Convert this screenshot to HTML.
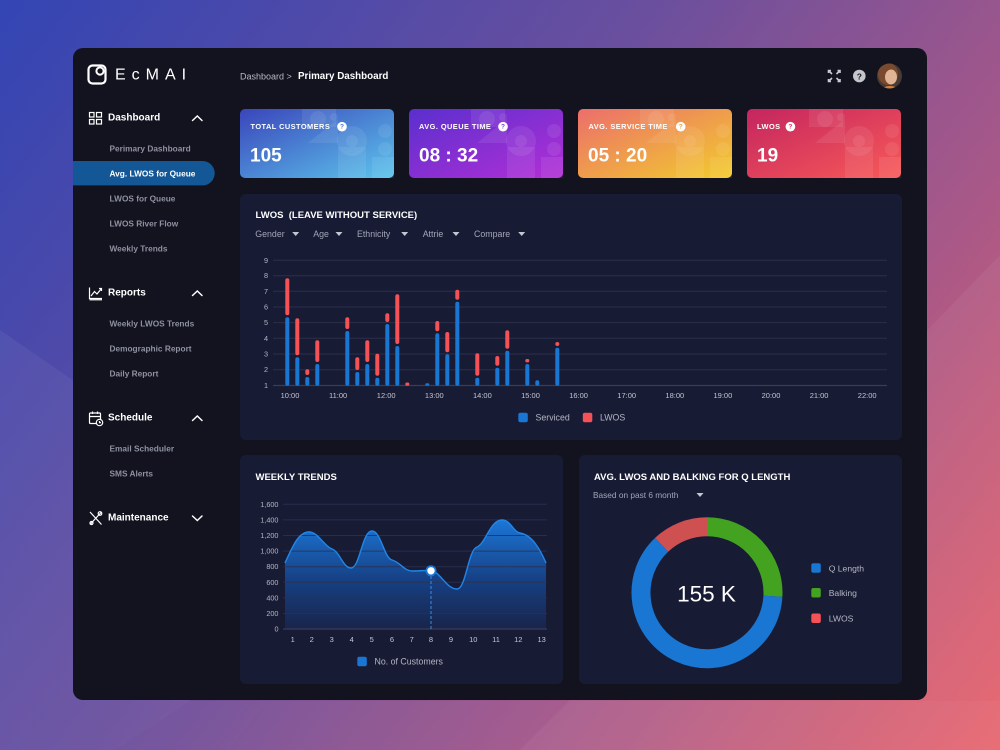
<!DOCTYPE html>
<html><head><meta charset="utf-8"><style>
html,body{margin:0;padding:0;width:1000px;height:750px;overflow:hidden;background:#12131f}
svg{display:block}
text{font-family:"Liberation Sans",sans-serif}
</style></head><body>
<svg width="1000" height="750" viewBox="0 0 1000 750" xmlns="http://www.w3.org/2000/svg">
<defs>
<linearGradient id="bg" x1="0" y1="0" x2="1000" y2="750" gradientUnits="userSpaceOnUse">
<stop offset="0" stop-color="#3345b4"/><stop offset="0.42" stop-color="#6a4f9e"/><stop offset="0.72" stop-color="#a85888"/><stop offset="1" stop-color="#e8626a"/>
</linearGradient>
<linearGradient id="c1" x1="0" y1="0" x2="1" y2="1"><stop offset="0" stop-color="#3a45bb"/><stop offset="1" stop-color="#5cc4ec"/></linearGradient>
<linearGradient id="c2" x1="0" y1="0" x2="1" y2="1"><stop offset="0" stop-color="#5a2fce"/><stop offset="1" stop-color="#b22fd6"/></linearGradient>
<linearGradient id="c3" x1="0" y1="0" x2="1" y2="1"><stop offset="0" stop-color="#ec6e6c"/><stop offset="1" stop-color="#f2cc2c"/></linearGradient>
<linearGradient id="c4" x1="0" y1="0" x2="1" y2="1"><stop offset="0" stop-color="#c4255f"/><stop offset="1" stop-color="#f85a58"/></linearGradient>
<linearGradient id="area" x1="0" y1="518" x2="0" y2="629" gradientUnits="userSpaceOnUse">
<stop offset="0" stop-color="#1c78da"/><stop offset="0.55" stop-color="#164186"/><stop offset="1" stop-color="#19244a"/>
</linearGradient>
<clipPath id="av"><circle cx="889.5" cy="76" r="12.5"/></clipPath>
<g id="deco" fill="#ffffff" fill-opacity="0.08">
<rect x="62" y="0" width="34" height="18"/>
<circle cx="78" cy="10" r="8"/>
<circle cx="94" cy="8" r="4"/>
<polygon points="68,34 98,10 98,34"/>
<circle cx="112" cy="32" r="15"/>
<circle cx="112" cy="32" r="6"/>
<rect x="98" y="38" width="28" height="31"/>
<circle cx="145" cy="22" r="7"/>
<circle cx="145" cy="40" r="7"/>
<rect x="132" y="48" width="22" height="21"/>
</g>
</defs>

<!-- background -->
<rect width="1000" height="750" fill="url(#bg)"/>
<polygon points="0,330 90,392 190,700 115,750 0,750" fill="#ffffff" fill-opacity="0.05"/>
<polygon points="115,750 187,701 1000,701 1000,750" fill="#ffffff" fill-opacity="0.035"/>
<polygon points="1000,255 560,710 520,750 1000,750" fill="#ffffff" fill-opacity="0.05"/>

<!-- window -->
<rect x="73" y="48" width="854" height="652" rx="10" fill="#12131f"/>

<!-- logo -->
<rect x="88.5" y="65.5" width="17" height="18" rx="4" fill="none" stroke="#fff" stroke-width="2.2"/>
<circle cx="100" cy="71" r="3.6" fill="none" stroke="#fff" stroke-width="2"/>
<text x="115" y="75" font-size="16" fill="#fff" letter-spacing="6" dominant-baseline="central">EcMAI</text>

<!-- breadcrumb -->
<text x="240" y="76.5" font-size="9" fill="#b9bac6" dominant-baseline="central">Dashboard &gt;</text>
<text x="298" y="76.5" font-size="9.8" font-weight="bold" fill="#fff" dominant-baseline="central">Primary Dashboard</text>

<!-- header icons -->
<g stroke="#c8c8d0" stroke-width="1.6" fill="none">
<path d="M828.5,73 V70.5 H831 M828.5,70.5 L832,74"/>
<path d="M840,73 V70.5 H837.5 M840,70.5 L836.5,74"/>
<path d="M828.5,79 V81.5 H831 M828.5,81.5 L832,78"/>
<path d="M840,79 V81.5 H837.5 M840,81.5 L836.5,78"/>
</g>
<circle cx="859.3" cy="76" r="6.3" fill="#c5c5cc"/>
<text x="859.3" y="76.5" font-size="8.5" font-weight="bold" fill="#12131f" text-anchor="middle" dominant-baseline="central">?</text>
<g clip-path="url(#av)">
<rect x="876" y="63" width="28" height="28" fill="#4a3a34"/>
<ellipse cx="888" cy="74" rx="10" ry="11" fill="#7a4a30"/>
<ellipse cx="891" cy="77" rx="6" ry="7.5" fill="#e2b496"/>
<ellipse cx="890" cy="91" rx="9" ry="5" fill="#d4843a"/>
</g>

<!-- sidebar -->
<path d="M73,161 H202.5 A12.2,12.2 0 0 1 202.5,185.4 H73 Z" fill="#145796"/>
<g fill="none" stroke="#fff" stroke-width="1.2">
<rect x="89.5" y="112.5" width="4.5" height="4.5"/><rect x="96.5" y="112.5" width="5" height="4.5"/>
<rect x="89.5" y="119.5" width="4.5" height="4.5"/><rect x="96.5" y="119.5" width="5" height="4.5"/>
<path d="M89.5,287.5 V298.5 H102 M89.5,299.8 H102"/>
<path d="M91,296 L94.5,291.5 L97,294 L101.5,288.5 M99,288.5 H101.5 V291"/>
<rect x="89.5" y="413" width="11" height="10.5" rx="1"/><path d="M89.5,416.5 H100.5 M92.5,411.5 V414 M97.5,411.5 V414"/>
<circle cx="99.5" cy="422.5" r="3.2" fill="#12131f"/><path d="M99.5,421 V422.7 H101"/>
<path d="M90,512 L101.5,524.5 M101.5,512 L90,524.5"/><circle cx="91.5" cy="523" r="1.5"/><circle cx="100" cy="513.5" r="1.8"/>
</g>
<g stroke="#fff" stroke-width="1.5" fill="none" stroke-linecap="round">
<path d="M192.5,120.5 L197.3,116 L202,120.5"/>
<path d="M192.5,295.5 L197.3,291 L202,295.5"/>
<path d="M192.5,420.5 L197.3,416 L202,420.5"/>
<path d="M192.5,516 L197.3,520.5 L202,516"/>
</g>
<g font-size="10" font-weight="bold" fill="#fff" dominant-baseline="central">
<text x="108" y="118">Dashboard</text>
<text x="108" y="293">Reports</text>
<text x="108" y="418">Schedule</text>
<text x="108" y="518">Maintenance</text>
</g>
<g font-size="8.3" font-weight="bold" fill="#8f91a2" dominant-baseline="central">
<text x="109.5" y="148.5">Perimary Dashboard</text>
<text x="109.5" y="173.5" fill="#fff">Avg. LWOS for Queue</text>
<text x="109.5" y="198.5">LWOS for Queue</text>
<text x="109.5" y="223.5">LWOS River Flow</text>
<text x="109.5" y="248.5">Weekly Trends</text>
<text x="109.5" y="323.5">Weekly LWOS Trends</text>
<text x="109.5" y="348.5">Demographic Report</text>
<text x="109.5" y="373.5">Daily Report</text>
<text x="109.5" y="448.5">Email Scheduler</text>
<text x="109.5" y="473.5">SMS Alerts</text>
</g>

<!-- stat cards -->
<rect x="240" y="109" width="154" height="69" rx="5" fill="url(#c1)"/>
<rect x="409" y="109" width="154" height="69" rx="5" fill="url(#c2)"/>
<rect x="578" y="109" width="154" height="69" rx="5" fill="url(#c3)"/>
<rect x="747" y="109" width="154" height="69" rx="5" fill="url(#c4)"/>
<use href="#deco" x="240" y="109"/>
<use href="#deco" x="409" y="109"/>
<use href="#deco" x="578" y="109"/>
<use href="#deco" x="747" y="109"/>
<g font-size="7.4" font-weight="bold" fill="#fff" letter-spacing="0.45" dominant-baseline="central">
<text x="250.5" y="126.5">TOTAL CUSTOMERS</text>
<text x="419" y="126.5">AVG. QUEUE TIME</text>
<text x="588.5" y="126.5">AVG. SERVICE TIME</text>
<text x="757" y="126.5">LWOS</text>
</g>
<g fill="#fff"><circle cx="342" cy="126.7" r="4.8"/><circle cx="503" cy="126.7" r="4.8"/><circle cx="680.7" cy="126.7" r="4.8"/><circle cx="790.4" cy="126.7" r="4.8"/></g>
<g font-size="6.5" font-weight="bold" text-anchor="middle" dominant-baseline="central">
<text x="342" y="127" fill="#4a72cc">?</text><text x="503" y="127" fill="#8a30d4">?</text><text x="680.7" y="127" fill="#f0a040">?</text><text x="790.4" y="127" fill="#d83258">?</text>
</g>
<g font-size="19" font-weight="bold" fill="#fff" dominant-baseline="central">
<text x="250" y="156">105</text>
<text x="419" y="156">08 : 32</text>
<text x="588" y="156">05 : 20</text>
<text x="757" y="156">19</text>
</g>

<!-- LWOS panel -->
<rect x="240" y="194" width="662" height="246" rx="6" fill="#181b34"/>
<text x="255.5" y="215.5" font-size="9.5" font-weight="bold" fill="#fff" dominant-baseline="central" xml:space="preserve">LWOS  (LEAVE WITHOUT SERVICE)</text>
<g font-size="8.8" fill="#a3a5b8" dominant-baseline="central">
<text x="255.3" y="234">Gender</text><text x="313.3" y="234">Age</text><text x="357" y="234">Ethnicity</text><text x="422.7" y="234">Attrie</text><text x="474" y="234">Compare</text>
</g>
<g fill="#c4c6d2">
<path d="M292.2,232 h7 l-3.5,4 z"/><path d="M335.5,232 h7 l-3.5,4 z"/><path d="M401.2,232 h7 l-3.5,4 z"/><path d="M452.5,232 h7 l-3.5,4 z"/><path d="M518.2,232 h7 l-3.5,4 z"/>
</g>
<g stroke="#2c2f4a" stroke-width="1">
<line x1="273" y1="260.3" x2="887" y2="260.3"/><line x1="273" y1="275.7" x2="887" y2="275.7"/><line x1="273" y1="291.3" x2="887" y2="291.3"/>
<line x1="273" y1="307" x2="887" y2="307"/><line x1="273" y1="322.6" x2="887" y2="322.6"/><line x1="273" y1="338.3" x2="887" y2="338.3"/>
<line x1="273" y1="354" x2="887" y2="354"/><line x1="273" y1="369.7" x2="887" y2="369.7"/>
</g>
<line x1="273" y1="385.5" x2="887" y2="385.5" stroke="#3a3d58" stroke-width="1.2"/>
<g font-size="7.3" fill="#b4b6c4" text-anchor="middle" dominant-baseline="central">
<text x="266" y="260.3">9</text><text x="266" y="275.7">8</text><text x="266" y="291.3">7</text><text x="266" y="307">6</text><text x="266" y="322.6">5</text>
<text x="266" y="338.3">4</text><text x="266" y="354">3</text><text x="266" y="369.7">2</text><text x="266" y="385.5">1</text>
</g>
<g font-size="7.5" fill="#c4c6d2" text-anchor="middle" dominant-baseline="central">
<text x="290" y="395.5">10:00</text><text x="338.1" y="395.5">11:00</text><text x="386.2" y="395.5">12:00</text><text x="434.3" y="395.5">13:00</text>
<text x="482.4" y="395.5">14:00</text><text x="530.5" y="395.5">15:00</text><text x="578.6" y="395.5">16:00</text><text x="626.7" y="395.5">17:00</text>
<text x="674.8" y="395.5">18:00</text><text x="722.9" y="395.5">19:00</text><text x="771" y="395.5">20:00</text><text x="819.1" y="395.5">21:00</text><text x="867.2" y="395.5">22:00</text>
</g>
<!-- bars blue -->
<g fill="#1976d2">
<rect x="285.3" y="317.3" width="4" height="68.5" rx="2"/>
<rect x="295.3" y="357.3" width="4" height="28.5" rx="2"/>
<rect x="305.3" y="377" width="4" height="8.8" rx="2"/>
<rect x="315.3" y="364" width="4" height="21.8" rx="2"/>
<rect x="345.3" y="331" width="4" height="54.8" rx="2"/>
<rect x="355.3" y="372" width="4" height="13.8" rx="2"/>
<rect x="365.3" y="364" width="4" height="21.8" rx="2"/>
<rect x="375.3" y="377.7" width="4" height="8.1" rx="2"/>
<rect x="385.3" y="324" width="4" height="61.8" rx="2"/>
<rect x="395.3" y="346" width="4" height="39.8" rx="2"/>
<rect x="425.3" y="383.3" width="4" height="2.5" rx="1.2"/>
<rect x="435.3" y="333.3" width="4" height="52.5" rx="2"/>
<rect x="445.3" y="354.3" width="4" height="31.5" rx="2"/>
<rect x="455.3" y="301.7" width="4" height="84.1" rx="2"/>
<rect x="475.3" y="377.7" width="4" height="8.1" rx="2"/>
<rect x="495.3" y="367.7" width="4" height="18.1" rx="2"/>
<rect x="505.3" y="350.7" width="4" height="35.1" rx="2"/>
<rect x="525.3" y="364" width="4" height="21.8" rx="2"/>
<rect x="535.3" y="380.3" width="4" height="5.5" rx="2"/>
<rect x="555.3" y="347.7" width="4" height="38.1" rx="2"/>
</g>
<g fill="#f45256">
<rect x="285.3" y="278.3" width="4" height="37" rx="2"/>
<rect x="295.3" y="318.3" width="4" height="37" rx="2"/>
<rect x="305.3" y="369.3" width="4" height="5.7" rx="2"/>
<rect x="315.3" y="340.3" width="4" height="21.7" rx="2"/>
<rect x="345.3" y="317.3" width="4" height="11.7" rx="2"/>
<rect x="355.3" y="357.3" width="4" height="12.7" rx="2"/>
<rect x="365.3" y="340.3" width="4" height="21.7" rx="2"/>
<rect x="375.3" y="353.7" width="4" height="22" rx="2"/>
<rect x="385.3" y="313.3" width="4" height="8.7" rx="2"/>
<rect x="395.3" y="294.3" width="4" height="49.7" rx="2"/>
<rect x="405.3" y="382.5" width="4" height="3.2" rx="1.5"/>
<rect x="435.3" y="321" width="4" height="10.3" rx="2"/>
<rect x="445.3" y="332" width="4" height="20.3" rx="2"/>
<rect x="455.3" y="289.7" width="4" height="10" rx="2"/>
<rect x="475.3" y="353.3" width="4" height="22.4" rx="2"/>
<rect x="495.3" y="356" width="4" height="9.7" rx="2"/>
<rect x="505.3" y="330.3" width="4" height="18.4" rx="2"/>
<rect x="525.3" y="359" width="4" height="3.4" rx="1.7"/>
<rect x="555.3" y="342" width="4" height="4" rx="2"/>
</g>
<rect x="518.3" y="412.8" width="9.5" height="9.5" rx="2" fill="#1976d2"/>
<text x="535.5" y="417.7" font-size="8.8" fill="#b4b6c4" dominant-baseline="central">Serviced</text>
<rect x="582.8" y="412.8" width="9.5" height="9.5" rx="2" fill="#f45256"/>
<text x="600" y="417.7" font-size="8.8" fill="#b4b6c4" dominant-baseline="central">LWOS</text>

<!-- weekly trends panel -->
<rect x="240" y="455" width="323" height="229" rx="6" fill="#181b34"/>
<text x="255.5" y="477.5" font-size="9.5" font-weight="bold" fill="#fff" dominant-baseline="central">WEEKLY TRENDS</text>
<path d="M285,563 C292,548 298,532 309,532 C318,532 324,546 332,549 C340,552 343,568 351,568 C360,568 362,531 372,531 C381,531 384,558 392,560 C400,562 404,571 412,571 C420,571 425,570 431,571 C440,571 446,589 457,589 C466,589 468,550 477,547 C486,543 490,520 502,520 C511,520 513,532 520,533 C532,535 540,549 546,563 L546,629 L285,629 Z" fill="url(#area)"/>
<g stroke="#2c3050" stroke-opacity="0.85" stroke-width="1">
<line x1="283" y1="504.3" x2="547" y2="504.3"/><line x1="283" y1="519.9" x2="547" y2="519.9"/><line x1="283" y1="535.5" x2="547" y2="535.5"/>
<line x1="283" y1="551.1" x2="547" y2="551.1"/><line x1="283" y1="566.7" x2="547" y2="566.7"/><line x1="283" y1="582.3" x2="547" y2="582.3"/>
<line x1="283" y1="597.9" x2="547" y2="597.9"/><line x1="283" y1="613.5" x2="547" y2="613.5"/>
</g>
<line x1="283" y1="629" x2="547" y2="629" stroke="#3a3d58" stroke-width="1.2"/>
<path d="M285,563 C292,548 298,532 309,532 C318,532 324,546 332,549 C340,552 343,568 351,568 C360,568 362,531 372,531 C381,531 384,558 392,560 C400,562 404,571 412,571 C420,571 425,570 431,571 C440,571 446,589 457,589 C466,589 468,550 477,547 C486,543 490,520 502,520 C511,520 513,532 520,533 C532,535 540,549 546,563" fill="none" stroke="#2286e6" stroke-width="1.4"/>
<line x1="431" y1="576" x2="431" y2="629" stroke="#3d8de0" stroke-width="1" stroke-dasharray="3,2"/>
<circle cx="431" cy="570.8" r="4.6" fill="#fff" stroke="#1976d2" stroke-width="1.8"/>
<g font-size="7.3" fill="#b4b6c4" text-anchor="end" dominant-baseline="central">
<text x="278.5" y="504.3">1,600</text><text x="278.5" y="519.9">1,400</text><text x="278.5" y="535.5">1,200</text><text x="278.5" y="551.1">1,000</text>
<text x="278.5" y="566.7">800</text><text x="278.5" y="582.3">600</text><text x="278.5" y="597.9">400</text><text x="278.5" y="613.5">200</text><text x="278.5" y="629">0</text>
</g>
<g font-size="7.5" fill="#c4c6d2" text-anchor="middle" dominant-baseline="central">
<text x="292.7" y="639.5">1</text><text x="311.7" y="639.5">2</text><text x="331.7" y="639.5">3</text><text x="351.7" y="639.5">4</text>
<text x="371.7" y="639.5">5</text><text x="392" y="639.5">6</text><text x="411.7" y="639.5">7</text><text x="431" y="639.5">8</text>
<text x="451" y="639.5">9</text><text x="473.3" y="639.5">10</text><text x="496" y="639.5">11</text><text x="518.3" y="639.5">12</text><text x="541.7" y="639.5">13</text>
</g>
<rect x="357.3" y="656.7" width="9.5" height="9.5" rx="2" fill="#1976d2"/>
<text x="374.5" y="661.7" font-size="8.8" fill="#b4b6c4" dominant-baseline="central">No. of Customers</text>

<!-- donut panel -->
<rect x="579" y="455" width="323" height="229" rx="6" fill="#181b34"/>
<text x="594" y="477.5" font-size="9.5" font-weight="bold" fill="#fff" dominant-baseline="central">AVG. LWOS AND BALKING FOR Q LENGTH</text>
<text x="593" y="495" font-size="8.3" fill="#a3a5b8" dominant-baseline="central">Based on past 6 month</text>
<path d="M696.5,493 h7 l-3.5,4 z" fill="#c4c6d2"/>
<g fill="none" stroke-width="19">
<path d="M707,526.7 A66,66 0 0 1 772.9,596.2" stroke="#43a21f"/>
<path d="M772.9,596.2 A66,66 0 1 1 661.6,544.8" stroke="#1976d2"/>
<path d="M661.6,544.8 A66,66 0 0 1 707,526.7" stroke="#cf5050"/>
</g>
<text x="706.5" y="594" font-size="22.5" fill="#fff" text-anchor="middle" dominant-baseline="central">155 K</text>
<rect x="811.3" y="563.3" width="9.5" height="9.5" rx="2" fill="#1976d2"/>
<rect x="811.3" y="588" width="9.5" height="9.5" rx="2" fill="#43a21f"/>
<rect x="811.3" y="613.5" width="9.5" height="9.5" rx="2" fill="#f45256"/>
<g font-size="8.6" fill="#b4b6c4" dominant-baseline="central">
<text x="828.7" y="568.3">Q Length</text><text x="828.7" y="593">Balking</text><text x="828.7" y="618.3">LWOS</text>
</g>
</svg>
</body></html>
